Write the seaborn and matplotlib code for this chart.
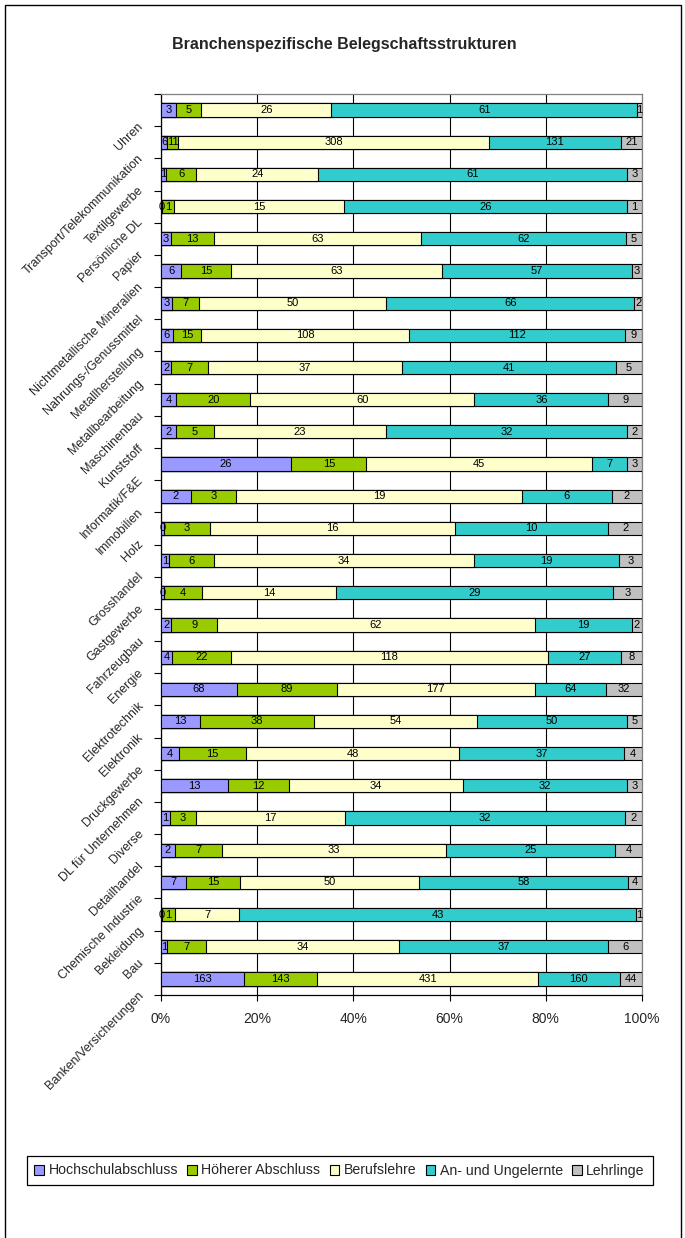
import numpy as np
import pandas as pd
import matplotlib
matplotlib.use("Agg")
import matplotlib.pyplot as plt
import matplotlib.transforms as mtransforms
from matplotlib.patches import Rectangle, Patch
import seaborn as sns

categories = [
    "Uhren", "Transport/Telekommunikation", "Textilgewerbe", "Persönliche DL",
    "Papier", "Nichtmetallische Mineralien", "Nahrungs-/Genussmittel",
    "Metallherstellung", "Metallbearbeitung", "Maschinenbau", "Kunststoff",
    "Informatik/F&E", "Immobilien", "Holz", "Grosshandel", "Gastgewerbe",
    "Fahrzeugbau", "Energie", "Elektrotechnik", "Elektronik", "Druckgewerbe",
    "DL für Unternehmen", "Diverse", "Detailhandel", "Chemische Industrie",
    "Bekleidung", "Bau", "Banken/Versicherungen",
]
hochschul = [3, 6, 1, 0.1, 3, 6, 3, 6, 2, 4, 2, 26, 2, 0.2, 1, 0.3, 2, 4, 68, 13,
             4, 13, 1, 2, 7, 0.1, 1, 163]
hoeherer = [5, 11, 6, 1.1, 13, 15, 7, 15, 7, 20, 5, 15, 3, 3, 6, 4, 9, 22, 89, 38,
            15, 12, 3, 7, 15, 1.4, 7, 143]
berufslehre = [26, 308, 24, 15.4, 63, 63, 50, 108, 37, 60, 23, 45, 19, 16, 34, 14,
               62, 118, 177, 54, 48, 34, 17, 33, 50, 7, 34, 431]
ungelernte = [61, 131, 61, 25.6, 62, 57, 66, 112, 41, 36, 32, 7, 6, 10, 19, 29, 19,
              27, 64, 50, 37, 32, 32, 25, 58, 43, 37, 160]
lehrlinge = [1, 21, 3, 1.4, 5, 3, 2, 9, 5, 9, 2, 3, 2, 2.2, 3, 3, 2, 8, 32, 5, 4, 3,
             2, 4, 4, 0.6, 6, 44]

series_names = ["Hochschulabschluss", "Höherer Abschluss", "Berufslehre",
                "An- und Ungelernte", "Lehrlinge"]
series_vals = [hochschul, hoeherer, berufslehre, ungelernte, lehrlinge]
colors = ["#9999FF", "#99CC00", "#FFFFCC", "#33CCCC", "#C0C0C0"]

sns.set_theme(style="white")
plt.rcParams["font.family"] = ["Liberation Sans", "DejaVu Sans"]

vals = np.array(series_vals, dtype=float)            # 5 x 28
shares = vals / vals.sum(axis=0) * 100
cum = np.cumsum(shares, axis=0)

W, H = 685, 1238
fig = plt.figure(figsize=(W / 100, H / 100), dpi=100)
ax = fig.add_axes([161 / W, 1 - 995 / H, 481 / W, 901 / H])

# stacked bars via overlay (largest cumulative first)
for i in range(len(series_names) - 1, -1, -1):
    df = pd.DataFrame({"Branche": categories, "cum": cum[i]})
    sns.barplot(data=df, x="cum", y="Branche", order=categories, orient="h",
                color=colors[i], saturation=1, edgecolor="black", linewidth=0.8,
                width=0.41, ax=ax, zorder=3)

# value labels
for i in range(len(series_names)):
    starts = cum[i] - shares[i]
    for j, cat in enumerate(categories):
        ax.text(starts[j] + shares[i][j] / 2, j, f"{vals[i][j]:.0f}",
                ha="center", va="center", fontsize=8, color="black", zorder=5)

ax.set_xlim(0, 100)
ax.set_ylim(len(categories) - 0.5, -0.5)
ax.set_xlabel("")
ax.set_ylabel("")

ax.set_xticks([0, 20, 40, 60, 80, 100])
ax.set_xticklabels(["0%", "20%", "40%", "60%", "80%", "100%"], fontsize=10)
ax.tick_params(axis="x", which="major", direction="out", length=4, width=0.8,
               color="black", pad=8, bottom=True)
ax.xaxis.grid(True, color="black", linewidth=0.8)
ax.yaxis.grid(False)
ax.set_axisbelow(True)

ax.set_yticks(range(len(categories)))
ax.set_yticks(np.arange(-0.5, len(categories), 1.0), minor=True)
ax.tick_params(axis="y", which="major", length=0, pad=11)
ax.tick_params(axis="y", which="minor", direction="out", length=5, width=0.8,
               color="black", left=True)
ax.set_yticklabels(categories, rotation=45, ha="right", va="top", fontsize=9)
offset = mtransforms.ScaledTranslation(0, -10 / 100, fig.dpi_scale_trans)
for tick in ax.yaxis.get_major_ticks():
    tick.label1.set_transform(tick.label1.get_transform() + offset)

for side in ["left", "bottom"]:
    ax.spines[side].set_color("black")
    ax.spines[side].set_linewidth(0.9)
for side in ["top", "right"]:
    ax.spines[side].set_color("#808080")
    ax.spines[side].set_linewidth(0.9)

fig.text(344 / W, 1 - 45 / H, "Branchenspezifische Belegschaftsstrukturen",
         ha="center", va="center", fontsize=11.5, fontweight="bold")

handles = [Patch(facecolor=c, edgecolor="black", linewidth=0.8) for c in colors]
leg = fig.legend(handles, series_names, loc="center",
                 bbox_to_anchor=(339.5 / W, 1 - 1170.5 / H), ncol=5,
                 fontsize=10.2, frameon=True, fancybox=False, framealpha=1,
                 edgecolor="black", handlelength=0.7, handleheight=0.7,
                 handletextpad=0.3, columnspacing=0.65, borderpad=0.55,
                 borderaxespad=0)
leg.get_frame().set_linewidth(0.9)

fig.add_artist(Rectangle((5 / W, -0.02), 676 / W, 1 - 5 / H + 0.02,
                         transform=fig.transFigure, fill=False,
                         edgecolor="black", linewidth=1))

fig.savefig("out.png", dpi=100)
